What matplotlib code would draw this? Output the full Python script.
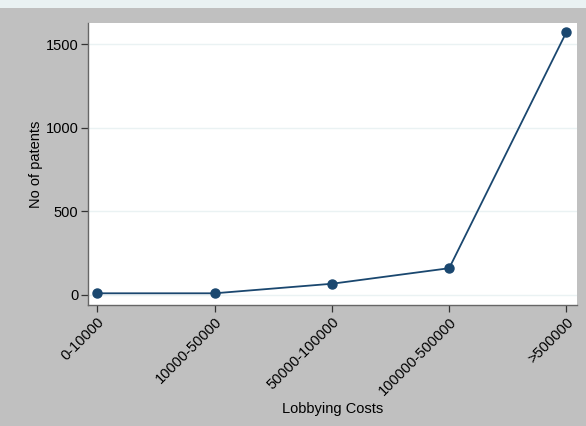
import matplotlib.pyplot as plt
from matplotlib.patches import Rectangle

plt.rcParams['font.family'] = ['Liberation Sans', 'DejaVu Sans']

categories = ['0-10000', '10000-50000', '50000-100000', '100000-500000', '>500000']
patents = [10, 10, 67, 160, 1572]
y_ticks = [0, 500, 1000, 1500]

navy = '#1a476f'
gray_bg = '#c0c0c0'

fig = plt.figure(figsize=(5.86, 4.26), dpi=100)
fig.patch.set_facecolor(gray_bg)
# light strip along the top edge
fig.patches.append(Rectangle((0, 1 - 8 / 426), 1, 8 / 426, transform=fig.transFigure,
                             facecolor='#eaf2f3', edgecolor='none', zorder=0))

ax = fig.add_axes([88 / 586, (426 - 305) / 426, (577 - 88) / 586, (305 - 23) / 426])
ax.set_facecolor('white')

x = list(range(1, len(categories) + 1))
ax.plot(x, patents, color=navy, linewidth=1.3, marker='o', markersize=6.5,
        markerfacecolor=navy, markeredgecolor=navy, zorder=3)

ax.set_xlim(0.92, 5.09)
ax.set_ylim(-60, 1626)
ax.set_yticks(y_ticks)
ax.set_xticks(x)
ax.set_xticklabels(categories, rotation=45, ha='right', rotation_mode='anchor')
ax.grid(axis='y', color='#eaf2f3', linewidth=1.0, zorder=0)
ax.set_axisbelow(True)

for side in ['top', 'right']:
    ax.spines[side].set_visible(False)
for side in ['left', 'bottom']:
    ax.spines[side].set_color('#666666')
    ax.spines[side].set_linewidth(1.0)

ax.tick_params(axis='both', length=5, width=0.9, color='#333333', labelsize=10.5,
               labelcolor='black', pad=2)

ax.set_ylabel('No of patents', fontsize=10.5, labelpad=2)
ax.set_xlabel('Lobbying Costs', fontsize=10.5, labelpad=3)

fig.savefig('out.png', dpi=100, facecolor=fig.get_facecolor())
